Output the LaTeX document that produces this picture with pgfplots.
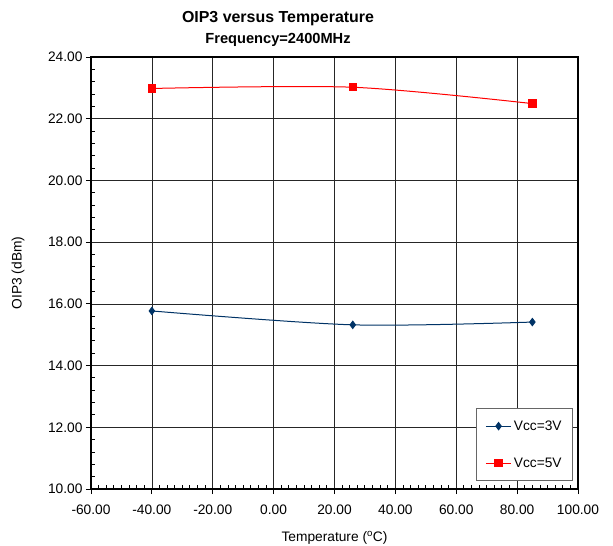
\documentclass[border=0pt]{standalone}
\usepackage{fontspec}
\setmainfont{Liberation Sans}
\usepackage{pgfplots}
\pgfplotsset{compat=1.18}
\definecolor{vthree}{RGB}{0,51,102}
\definecolor{vfive}{RGB}{255,0,0}
\begin{document}
\begin{tikzpicture}
\begin{axis}[
  scale only axis,
  width=487bp, height=432bp,
  xmin=-60, xmax=100, ymin=10, ymax=24,
  xtick={-60,-40,...,100}, ytick={10,12,...,24},
  minor x tick num=7, minor y tick num=4,
  xtick pos=bottom, ytick pos=left,
  clip=false,
  grid=major,
  major grid style={black!85, line width=0.7bp},
  axis line style={black, line width=1.1bp},
  tick style={black, line width=0.9bp},
  tick align=outside,
  major tick length=5bp, minor tick length=4bp,
  minor x tick style={yshift=4bp},
  minor y tick style={xshift=4bp},
  /pgf/number format/.cd, fixed, fixed zerofill, precision=2, assume math mode=true,
  /pgfplots/.cd,
  ticklabel style={font=\fontsize{13.8}{16}\selectfont},
  xticklabel style={yshift=-7bp},
  xlabel={Temperature (\textsuperscript{o}C)},
  ylabel={OIP3 (dBm)},
  label style={font=\fontsize{13.8}{16}\selectfont},
  xlabel style={at={(axis description cs:0.5,-0.122)}, anchor=base},
  ylabel style={at={(axis description cs:-0.150,0.5)}, anchor=center},
  legend style={at={(0.9897,0.0185)}, anchor=south east,
    draw=black!60, line width=0.8bp, font=\fontsize{13.8}{16}\selectfont,
    row sep=22bp, inner xsep=9bp, inner ysep=10bp},
  legend cell align=left,
  legend image code/.code={\draw[mark repeat=2,mark phase=2]
    plot coordinates {(0cm,0cm)(0.45cm,0cm)(0.9cm,0cm)};},
]
\addplot[color=vthree, line width=1bp, smooth, mark=diamond*, mark size=3.6bp,
  mark options={solid, fill=vthree}]
  coordinates {(-40,15.77)(26,15.32)(85,15.41)};
\addlegendentry{Vcc=3V}
\addplot[color=vfive, line width=1bp, smooth, mark=square*, mark size=3.7bp,
  mark options={solid, fill=vfive}]
  coordinates {(-40,22.98)(26,23.02)(85,22.49)};
\addlegendentry{Vcc=5V}
\node[anchor=base, font=\fontsize{16}{19}\selectfont\bfseries, yshift=34.5bp]
  at (rel axis cs:0.384,1) {OIP3 versus Temperature};
\node[anchor=base, font=\fontsize{14.7}{18}\selectfont\bfseries, yshift=13bp]
  at (rel axis cs:0.384,1) {Frequency=2400MHz};
\coordinate (bbsw) at (rel axis cs:-0.18686,-0.13194);
\coordinate (bbne) at (rel axis cs:1.07187,1.13194);
\end{axis}
\pgfresetboundingbox
\path (bbsw) rectangle (bbne);
\end{tikzpicture}
\end{document}
